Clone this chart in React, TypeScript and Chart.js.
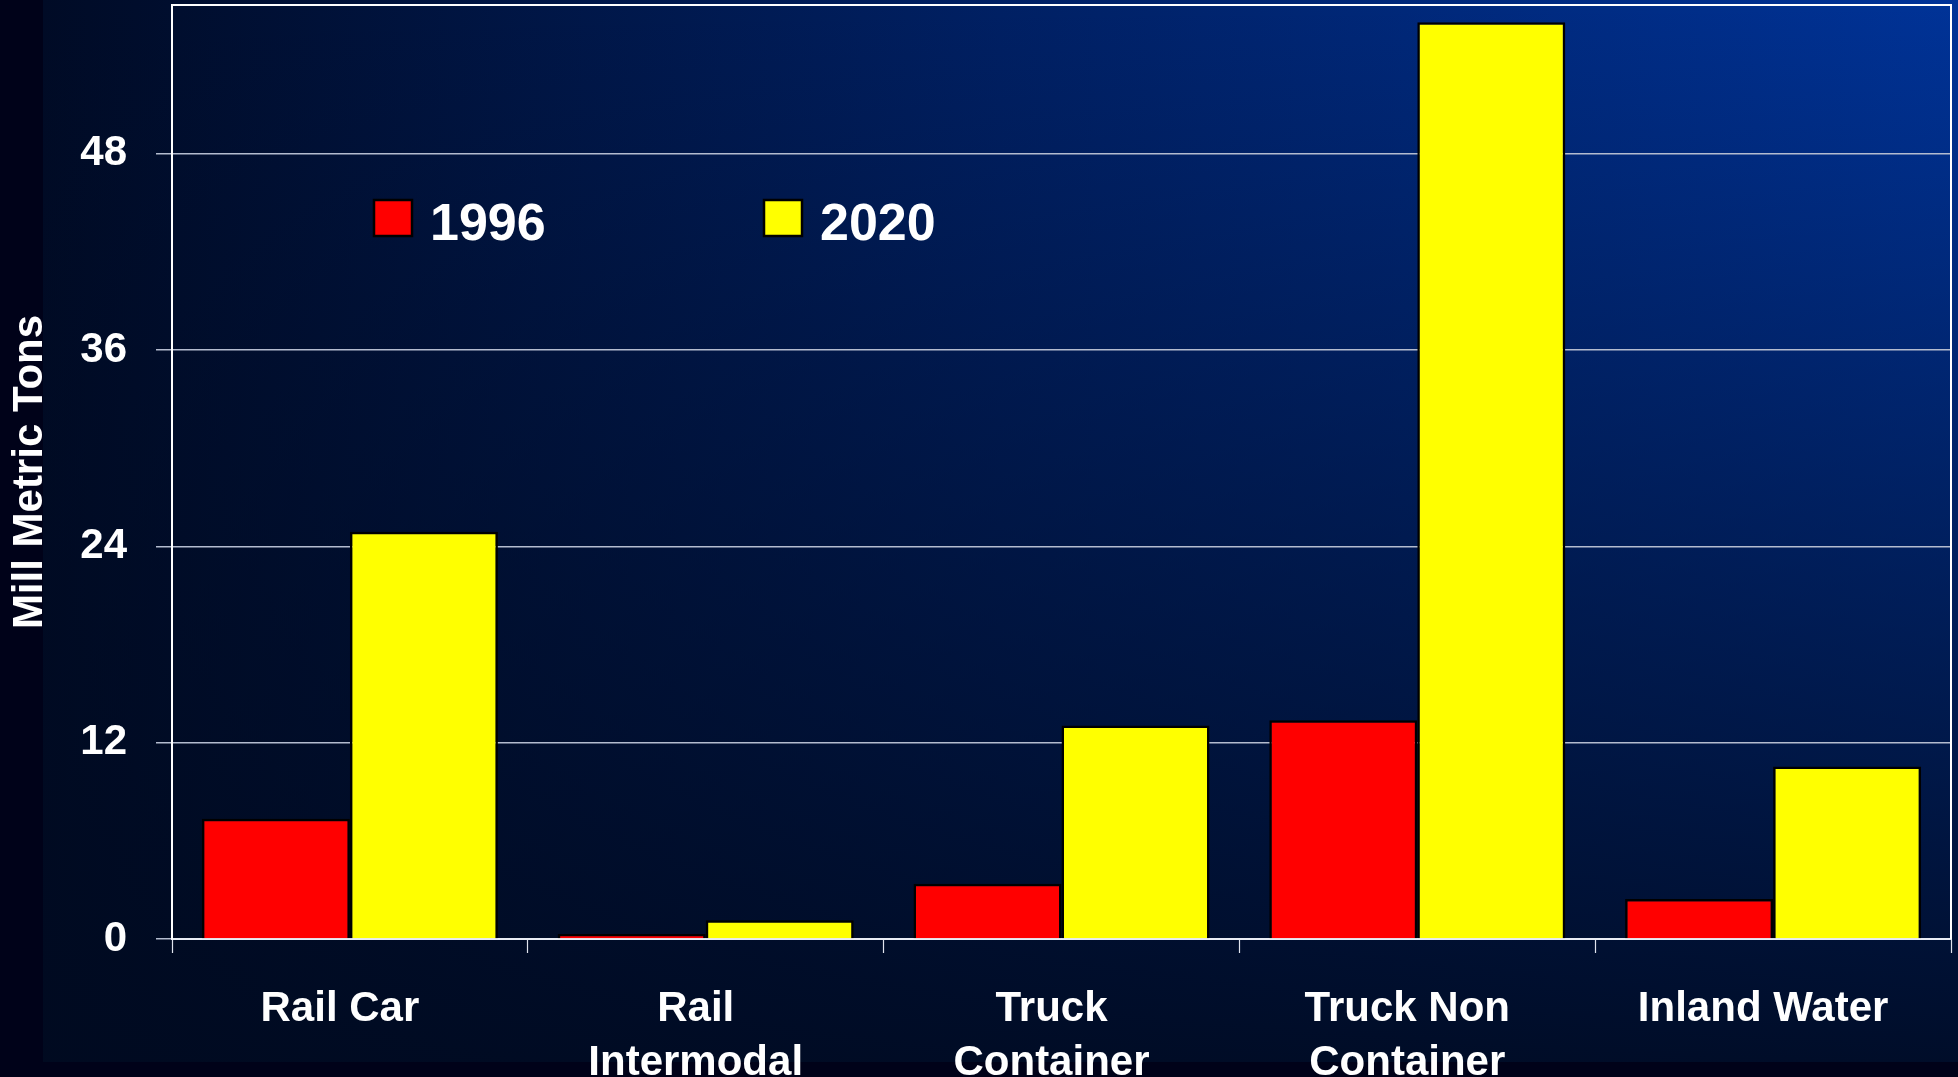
import React, { useEffect, useRef } from "react";
import { Chart, registerables } from "chart.js";

Chart.register(...registerables);

// ---- Data ----
const categories: string[][] = [
  ["Rail Car"],
  ["Rail", "Intermodal"],
  ["Truck", "Container"],
  ["Truck Non", "Container"],
  ["Inland Water"],
];
const seriesNames = ["1996", "2020"];
const values1996 = [7.35, 0.3, 3.38, 13.38, 2.45];
const values2020 = [24.9, 1.14, 13.05, 56.05, 10.55];
const yTickValues = [0, 12, 24, 36, 48];
const yAxisTitle = "Mill Metric Tons";

const FONT = "'Liberation Sans', Arial, Helvetica, sans-serif";
const W = 1958;
const H = 1077;

const backgroundPlugin = {
  id: "slideBackground",
  beforeDraw(chart: any) {
    const ctx = chart.ctx as CanvasRenderingContext2D;
    ctx.save();
    ctx.fillStyle = "#000219";
    ctx.fillRect(0, 0, W, H);
    const g = ctx.createLinearGradient(43, 0, W, 0);
    g.addColorStop(0, "#000b26");
    g.addColorStop(0.5, "#002064");
    g.addColorStop(1, "#003398");
    ctx.fillStyle = g;
    ctx.fillRect(43, 0, W - 43, 1062);
    const v = ctx.createLinearGradient(0, 0, 0, 1062);
    v.addColorStop(0, "rgba(0,10,32,0)");
    v.addColorStop(1, "rgba(0,10,32,0.92)");
    ctx.fillStyle = v;
    ctx.fillRect(43, 0, W - 43, 1062);
    ctx.restore();
  },
};

const frameAndLegendPlugin = {
  id: "frameAndLegend",
  afterDatasetsDraw(chart: any) {
    const ctx = chart.ctx as CanvasRenderingContext2D;
    const a = chart.chartArea;
    ctx.save();
    // plot frame (top, left, right)
    ctx.strokeStyle = "#ffffff";
    ctx.lineWidth = 2;
    ctx.beginPath();
    ctx.moveTo(a.left, a.bottom);
    ctx.lineTo(a.left, a.top);
    ctx.lineTo(a.right, a.top);
    ctx.lineTo(a.right, a.bottom);
    ctx.stroke();

    // legend
    const boxX = [374, 764];
    const boxY = 200;
    const boxW = 38;
    const boxH = 36;
    ctx.font = `bold 52px ${FONT}`;
    ctx.textBaseline = "alphabetic";
    ctx.textAlign = "left";
    chart.data.datasets.forEach((ds: any, i: number) => {
      ctx.fillStyle = ds.backgroundColor;
      ctx.fillRect(boxX[i], boxY, boxW, boxH);
      ctx.strokeStyle = "#000000";
      ctx.lineWidth = 2.5;
      ctx.strokeRect(boxX[i], boxY, boxW, boxH);
      ctx.fillStyle = "#ffffff";
      ctx.fillText(ds.label, boxX[i] + 56, 240);
    });
    ctx.restore();
  },
};

export default function App() {
  const canvasRef = useRef<HTMLCanvasElement | null>(null);

  useEffect(() => {
    document.body.style.margin = "0";
    document.body.style.background = "#000219";
    const canvas = canvasRef.current;
    if (!canvas) return;

    const chart = new Chart(canvas, {
      type: "bar",
      data: {
        labels: categories,
        datasets: [
          {
            label: seriesNames[0],
            data: values1996,
            backgroundColor: "#ff0000",
            borderColor: "#000000",
            borderWidth: 2.5,
          },
          {
            label: seriesNames[1],
            data: values2020,
            backgroundColor: "#ffff00",
            borderColor: "#000000",
            borderWidth: 2.5,
          },
        ],
      },
      options: {
        responsive: false,
        animation: false,
        devicePixelRatio: 1,
        layout: { padding: { top: 5, right: 7, bottom: 0, left: 0 } },
        datasets: {
          bar: {
            categoryPercentage: 0.832,
            barPercentage: 1,
          },
        },
        plugins: {
          legend: { display: false },
          tooltip: { enabled: false },
        },
        scales: {
          x: {
            afterFit: (scale: any) => {
              scale.height = 138;
              scale.paddingLeft = 0;
              scale.paddingRight = 0;
            },
            border: { display: true, color: "#e8ecf4", width: 2 },
            grid: {
              display: true,
              offset: true,
              drawOnChartArea: false,
              drawTicks: true,
              tickLength: 14,
              tickColor: "#e0e4ee",
              tickWidth: 1.2,
            },
            ticks: {
              color: "#ffffff",
              font: { family: FONT, size: 42, weight: "bold", lineHeight: 1.286 },
              padding: 29,
              labelOffset: -10,
              maxRotation: 0,
              autoSkip: false,
            },
          },
          y: {
            min: 0,
            max: 57.1,
            afterFit: (scale: any) => {
              scale.width = 172;
              scale.paddingTop = 0;
              scale.paddingBottom = 0;
            },
            afterBuildTicks: (scale: any) => {
              scale.ticks = yTickValues.map((v) => ({ value: v }));
            },
            border: { display: true, color: "#ffffff", width: 2 },
            grid: {
              color: "#b4bccf",
              lineWidth: 1.5,
              tickLength: 16,
              tickColor: "#b4bccf",
              tickWidth: 1.5,
            },
            ticks: {
              color: "#ffffff",
              font: { family: FONT, size: 42, weight: "bold" },
              padding: 29,
            },
            title: {
              display: true,
              text: yAxisTitle,
              color: "#ffffff",
              font: { family: FONT, size: 42, weight: "bold", lineHeight: 1.2 },
              padding: { top: 5, bottom: 0 },
            },
          },
        },
      },
      plugins: [backgroundPlugin, frameAndLegendPlugin],
    } as any);

    return () => {
      chart.destroy();
    };
  }, []);

  return (
    <div style={{ width: W, height: H, position: "relative" }}>
      <canvas ref={canvasRef} width={W} height={H} style={{ display: "block" }} />
    </div>
  );
}
